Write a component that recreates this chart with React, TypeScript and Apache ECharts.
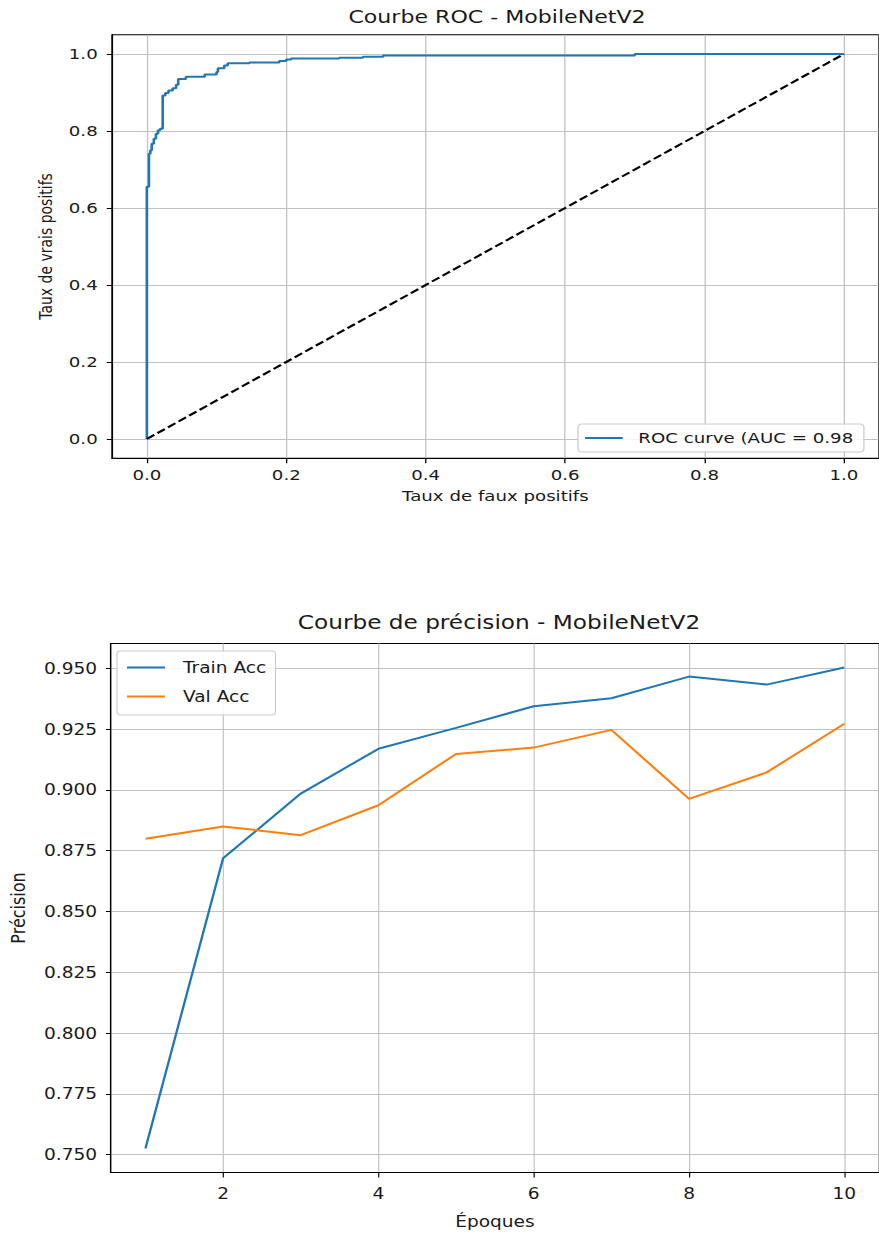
import React, { useEffect, useRef } from "react";
import * as echarts from "echarts";

// ROC curve: false positive rate at which each rise happens, and the true positive rate reached
const rocFpr = [0, 0, 0.003, 0.003, 0.005, 0.007, 0.010, 0.013, 0.016, 0.019, 0.0227, 0.0265, 0.031, 0.037, 0.042, 0.045, 0.056, 0.083, 0.100, 0.102, 0.111, 0.116, 0.147, 0.190, 0.200, 0.207, 0.276, 0.310, 0.339, 0.700, 1.0];
const rocTpr = [0, 0.655, 0.673, 0.741, 0.750, 0.767, 0.780, 0.793, 0.802, 0.806, 0.892, 0.899, 0.905, 0.911, 0.920, 0.935, 0.941, 0.947, 0.953, 0.963, 0.970, 0.976, 0.978, 0.982, 0.986, 0.988, 0.990, 0.993, 0.996, 1.0, 1.0];
const diagX = [0, 1];
const diagY = [0, 1];
const rocLabel = "ROC curve (AUC = 0.98";

// Accuracy per epoch
const epochs = [1, 2, 3, 4, 5, 6, 7, 8, 9, 10];
const trainAcc = [0.7526, 0.8719, 0.8985, 0.9169, 0.9255, 0.9344, 0.9377, 0.9466, 0.9433, 0.9503];
const valAcc = [0.8799, 0.8850, 0.8814, 0.8937, 0.9148, 0.9174, 0.9247, 0.8963, 0.9072, 0.9272];

const FONT = "DejaVu Sans";
const TXT = "#1a1a1a";
const GRID = "#c2c2c2";
const S1 = 1.3;
const S2 = 1.16;

function valueAxis(o: any) {
  return {
    type: "value",
    min: o.min,
    max: o.max,
    minInterval: o.step,
    maxInterval: o.step,
    name: o.name,
    nameLocation: "middle",
    nameGap: o.nameGap,
    nameTextStyle: { fontSize: o.nameSize, color: TXT, fontFamily: FONT },
    axisLine: { show: true, onZero: false, lineStyle: { color: "#000", width: 1 } },
    axisTick: { show: true, length: o.tickLen, lineStyle: { color: "#000", width: 1 } },
    axisLabel: {
      fontSize: o.labelSize,
      color: TXT,
      fontFamily: FONT,
      margin: o.margin,
      showMinLabel: false,
      showMaxLabel: false,
      formatter: (v: number) => v.toFixed(o.digits),
    },
    splitLine: { show: true, showMinLine: false, showMaxLine: false, lineStyle: { color: GRID, width: 1 } },
  };
}

function useChart(ref: React.RefObject<HTMLDivElement>, option: any) {
  useEffect(() => {
    if (!ref.current) return;
    const chart = echarts.init(ref.current, undefined, { renderer: "svg" });
    chart.setOption(option);
    return () => chart.dispose();
  }, []);
}

export default function App() {
  const topRef = useRef<HTMLDivElement>(null);
  const botRef = useRef<HTMLDivElement>(null);

  const topOption = {
    animation: false,
    textStyle: { fontFamily: FONT },
    title: {
      text: "Courbe ROC - MobileNetV2",
      left: 497 / S1,
      top: 9,
      textAlign: "center",
      padding: 0,
      textStyle: { fontSize: 17, fontWeight: "normal", color: TXT, fontFamily: FONT },
    },
    grid: { left: 112 / S1, top: 34.75, width: 770 / S1, height: 423.5, show: true, borderColor: "#000", borderWidth: 1 },
    xAxis: valueAxis({ min: -0.05, max: 1.05, step: 0.2, name: "Taux de faux positifs", nameGap: 31, nameSize: 14, tickLen: 5, labelSize: 14, margin: 10, digits: 1 }),
    yAxis: valueAxis({ min: -0.05, max: 1.05, step: 0.2, name: "Taux de vrais positifs", nameGap: 44, nameSize: 14, tickLen: 4, labelSize: 14, margin: 11, digits: 1 }),
    legend: {
      data: [{ name: rocLabel, icon: "rect" }],
      left: 578 / S1,
      top: 424,
      itemWidth: 29,
      itemHeight: 2,
      padding: [7, 8, 7, 5.4],
      backgroundColor: "rgba(255,255,255,0.85)",
      borderColor: "#cccccc",
      borderWidth: 1,
      borderRadius: 3,
      itemStyle: { borderWidth: 0 },
      textStyle: { fontSize: 14, color: TXT, fontFamily: FONT, lineHeight: 14, padding: [0, 0, 0, 7] },
    },
    series: [
      {
        type: "line",
        name: rocLabel,
        data: rocFpr.map((x, i) => [x, rocTpr[i]]),
        step: "end",
        symbol: "none",
        lineStyle: { color: "#1f77b4", width: 2 },
        itemStyle: { color: "#1f77b4" },
        z: 2,
      },
      {
        type: "line",
        name: "diag",
        data: diagX.map((x, i) => [x, diagY[i]]),
        symbol: "none",
        lineStyle: { color: "#000", width: 2, type: [7, 3] },
        itemStyle: { color: "#000" },
        z: 3,
      },
    ],
  };

  const botOption = {
    animation: false,
    textStyle: { fontFamily: FONT },
    title: {
      text: "Courbe de précision - MobileNetV2",
      left: 499 / S2,
      top: 72,
      textAlign: "center",
      padding: 0,
      textStyle: { fontSize: 20, fontWeight: "normal", color: TXT, fontFamily: FONT },
    },
    grid: { left: 110.5 / S2, top: 103.5, width: 776.8 / S2, height: 529, show: true, borderColor: "#000", borderWidth: 1 },
    xAxis: valueAxis({ min: 0.55, max: 10.45, step: 2, name: "Époques", nameGap: 41, nameSize: 16, tickLen: 5, labelSize: 16, margin: 13, digits: 0 }),
    yAxis: valueAxis({ min: 0.7427, max: 0.9602, step: 0.025, name: "Précision", nameGap: 71, nameSize: 16, tickLen: 4, labelSize: 16, margin: 11.6, digits: 3 }),
    legend: {
      orient: "vertical",
      data: [
        { name: "Train Acc", icon: "rect" },
        { name: "Val Acc", icon: "rect" },
      ],
      left: 117 / S2,
      top: 111,
      itemWidth: 32.8,
      itemHeight: 2,
      itemGap: 12,
      padding: [8, 8, 10, 8.6],
      backgroundColor: "rgba(255,255,255,0.85)",
      borderColor: "#cccccc",
      borderWidth: 1,
      borderRadius: 3,
      itemStyle: { borderWidth: 0 },
      textStyle: { fontSize: 16, color: TXT, fontFamily: FONT, lineHeight: 17, padding: [0, 0, 0, 10.5] },
    },
    series: [
      {
        type: "line",
        name: "Train Acc",
        data: epochs.map((e, i) => [e, trainAcc[i]]),
        symbol: "none",
        lineStyle: { color: "#1f77b4", width: 2 },
        itemStyle: { color: "#1f77b4" },
      },
      {
        type: "line",
        name: "Val Acc",
        data: epochs.map((e, i) => [e, valAcc[i]]),
        symbol: "none",
        lineStyle: { color: "#ff7f0e", width: 2 },
        itemStyle: { color: "#ff7f0e" },
      },
    ],
  };

  useChart(topRef, topOption);
  useChart(botRef, botOption);

  return (
    <div style={{ position: "fixed", left: 0, top: 0, width: 879, height: 1240, overflow: "hidden", background: "#fff" }}>
      <div
        ref={topRef}
        style={{ position: "absolute", left: 0, top: 0, width: 879 / S1, height: 540, transform: `scaleX(${S1})`, transformOrigin: "left top" }}
      />
      <div
        ref={botRef}
        style={{ position: "absolute", left: 0, top: 540, width: 879 / S2, height: 700, transform: `scaleX(${S2})`, transformOrigin: "left top" }}
      />
    </div>
  );
}
